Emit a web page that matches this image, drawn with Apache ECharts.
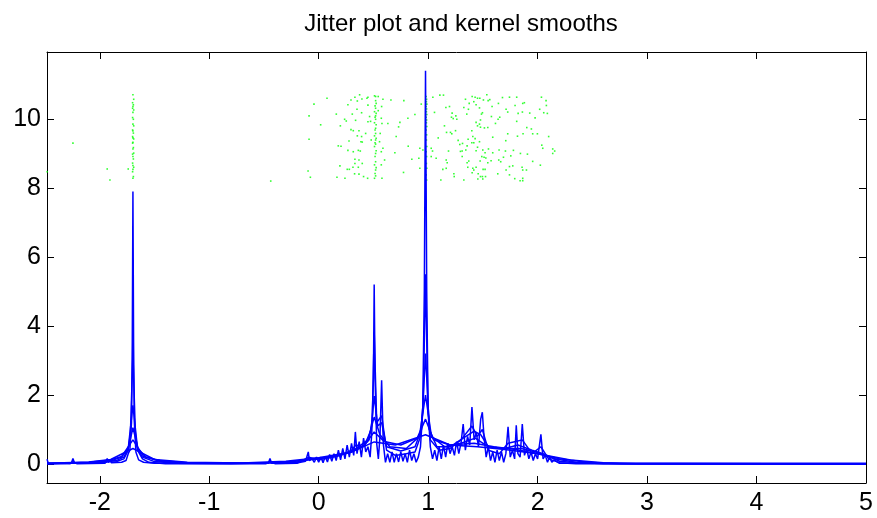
<!DOCTYPE html>
<html>
<head>
<meta charset="utf-8">
<title>Jitter plot and kernel smooths</title>
<script src="https://cdn.jsdelivr.net/npm/echarts@6/dist/echarts.min.js"></script>
<style>
html, body { margin: 0; padding: 0; background: #fff; }
#main { width: 877px; height: 518px; }
</style>
</head>
<body>
<div id="main"></div>
<script>
"use strict";
var xRange = [-2.482, 5];
var yRange = [-0.55, 11.94];

// kernel smooths, narrowest bandwidth first
var smooth1 = [[-2.482,0.14],[-2.47,0.02],[-2.26,0.02],[-2.245,0.16],[-2.23,0.02],[-1.95,0.03],[-1.932,0.16],[-1.92,0.04],[-1.907,0.12],[-1.895,0.04],[-1.8,0.05],[-1.76,0.1],[-1.74,0.3],[-1.725,0.4],[-1.71,1.2],[-1.703,3.5],[-1.697,7.9],[-1.691,3.5],[-1.684,1.2],[-1.67,0.35],[-1.645,0.12],[-1.6,0.05],[-1.5,0.02],[-0.46,0.02],[-0.445,0.16],[-0.43,0.02],[-0.2,0.03],[-0.12,0.08],[-0.095,0.35],[-0.085,0.1],[-0.06,0.15],[-0.04,0.05],[-0.02,0.2],[0.0,0.05],[0.02,0.2],[0.04,0.04],[0.06,0.22],[0.08,0.06],[0.1,0.28],[0.12,0.08],[0.14,0.3],[0.16,0.1],[0.18,0.4],[0.2,0.12],[0.22,0.45],[0.24,0.15],[0.26,0.55],[0.28,0.2],[0.3,0.6],[0.32,0.25],[0.335,0.93],[0.35,0.3],[0.37,0.65],[0.39,0.2],[0.41,0.75],[0.43,0.35],[0.45,0.5],[0.47,0.2],[0.485,0.9],[0.5,2.5],[0.507,5.2],[0.515,2.5],[0.53,0.6],[0.545,0.15],[0.56,0.8],[0.575,2.43],[0.59,0.6],[0.61,0.05],[0.63,0.3],[0.65,0.05],[0.67,0.35],[0.69,0.05],[0.71,0.3],[0.73,0.06],[0.75,0.35],[0.77,0.08],[0.79,0.3],[0.81,0.05],[0.83,0.4],[0.85,0.1],[0.87,0.3],[0.89,0.05],[0.91,0.2],[0.93,0.5],[0.95,1.5],[0.965,5],[0.976,11.4],[0.987,5],[1.0,1.5],[1.02,0.5],[1.04,0.15],[1.06,0.4],[1.08,0.1],[1.1,0.5],[1.12,0.15],[1.14,0.55],[1.16,0.2],[1.18,0.6],[1.2,0.3],[1.22,0.5],[1.24,0.25],[1.26,0.65],[1.28,0.3],[1.3,0.6],[1.32,1.16],[1.34,0.4],[1.36,0.8],[1.38,0.55],[1.4,1.65],[1.42,0.7],[1.44,0.9],[1.46,0.5],[1.48,1.3],[1.495,1.5],[1.51,0.8],[1.53,0.2],[1.55,0.5],[1.57,0.1],[1.59,0.35],[1.61,0.05],[1.63,0.4],[1.65,0.1],[1.67,0.35],[1.69,0.05],[1.71,0.3],[1.73,1.08],[1.75,0.2],[1.77,0.4],[1.79,0.15],[1.805,1.12],[1.82,0.3],[1.84,0.2],[1.86,1.16],[1.88,0.25],[1.9,0.45],[1.92,0.15],[1.94,0.35],[1.96,0.1],[1.98,0.3],[2.0,0.15],[2.03,0.86],[2.05,0.15],[2.07,0.25],[2.09,0.05],[2.11,0.2],[2.13,0.05],[2.15,0.12],[2.2,0.02],[5,0.02]];
var smooth2 = [[-2.482,0.02],[-2.27,0.01],[-2.245,0.07],[-2.21,0.01],[-1.96,0.02],[-1.92,0.1],[-1.84,0.08],[-1.78,0.15],[-1.74,0.4],[-1.72,0.9],[-1.697,3.2],[-1.675,0.9],[-1.655,0.4],[-1.61,0.15],[-1.55,0.05],[-1.4,0.01],[-0.48,0.01],[-0.44,0.07],[-0.4,0.01],[-0.2,0.02],[-0.09,0.2],[0.0,0.12],[0.1,0.18],[0.2,0.25],[0.3,0.4],[0.34,0.55],[0.4,0.5],[0.46,0.7],[0.49,1.3],[0.507,3.83],[0.53,1.2],[0.575,1.4],[0.62,0.4],[0.7,0.25],[0.8,0.3],[0.88,0.35],[0.93,0.8],[0.955,1.8],[0.976,5.5],[0.997,1.8],[1.02,0.7],[1.1,0.4],[1.2,0.45],[1.3,0.7],[1.4,1.1],[1.45,0.8],[1.495,1.0],[1.55,0.4],[1.65,0.3],[1.73,0.6],[1.8,0.65],[1.86,0.7],[1.95,0.3],[2.03,0.5],[2.1,0.15],[2.2,0.04],[2.35,0.01],[5,0.0]];
var smooth3 = [[-2.482,0.01],[-2.2,0.03],[-1.95,0.05],[-1.85,0.1],[-1.78,0.2],[-1.74,0.45],[-1.697,1.7],[-1.655,0.45],[-1.61,0.2],[-1.5,0.07],[-1.3,0.02],[-0.8,0.01],[-0.45,0.04],[-0.2,0.05],[-0.08,0.15],[0.1,0.2],[0.3,0.35],[0.42,0.55],[0.48,1.0],[0.507,1.97],[0.54,1.1],[0.575,1.2],[0.62,0.5],[0.75,0.38],[0.88,0.5],[0.94,1.0],[0.976,3.2],[1.01,1.0],[1.08,0.5],[1.2,0.5],[1.32,0.75],[1.42,0.95],[1.48,0.85],[1.55,0.5],[1.7,0.45],[1.82,0.55],[1.95,0.4],[2.05,0.3],[2.2,0.08],[2.4,0.02],[5,0.0]];
var smooth4 = [[-2.482,0.01],[-2.1,0.04],[-1.9,0.09],[-1.8,0.2],[-1.74,0.45],[-1.697,1.05],[-1.65,0.45],[-1.58,0.2],[-1.45,0.08],[-1.2,0.03],[-0.6,0.02],[-0.3,0.05],[-0.1,0.12],[0.1,0.2],[0.3,0.35],[0.45,0.7],[0.507,1.36],[0.56,0.85],[0.65,0.5],[0.8,0.45],[0.92,0.8],[0.976,2.0],[1.03,0.8],[1.15,0.5],[1.3,0.6],[1.43,0.75],[1.55,0.5],[1.7,0.45],[1.85,0.45],[2.0,0.33],[2.15,0.15],[2.35,0.05],[2.6,0.01],[5,0.0]];
var smooth5 = [[-2.482,0.01],[-2.1,0.05],[-1.9,0.12],[-1.8,0.22],[-1.697,0.7],[-1.6,0.22],[-1.45,0.1],[-1.2,0.04],[-0.6,0.02],[-0.3,0.06],[0.0,0.15],[0.25,0.3],[0.42,0.55],[0.507,0.93],[0.6,0.65],[0.75,0.55],[0.9,0.75],[0.976,1.3],[1.05,0.7],[1.2,0.55],[1.42,0.6],[1.6,0.5],[1.8,0.42],[2.0,0.3],[2.2,0.15],[2.45,0.05],[2.75,0.01],[5,0.0]];
var smooth6 = [[-2.482,0.02],[-2.1,0.06],[-1.9,0.13],[-1.697,0.45],[-1.5,0.13],[-1.2,0.05],[-0.7,0.03],[-0.3,0.08],[0.0,0.18],[0.3,0.35],[0.507,0.64],[0.7,0.55],[0.976,0.85],[1.2,0.55],[1.45,0.5],[1.7,0.42],[2.0,0.3],[2.3,0.12],[2.6,0.04],[2.9,0.01],[5,0.0]];

// jittered observations
var jitterLeft = [[-2.48,8.47],[-2.245,9.30],[-1.932,8.55],[-1.907,8.23],[-1.74,8.55],[-0.438,8.20],
  [-1.697,10.70],[-1.69,10.57],[-1.70,10.47],[-1.693,10.41],[-1.697,10.36],[-1.70,10.31],[-1.69,10.26],[-1.697,10.19],[-1.70,10.04],[-1.693,9.99],[-1.697,9.85],[-1.69,9.80],[-1.70,9.68],[-1.697,9.65],[-1.693,9.59],[-1.70,9.49],[-1.697,9.45],[-1.69,9.42],[-1.697,9.32],[-1.70,9.30],[-1.693,9.17],[-1.697,9.13],[-1.69,9.01],[-1.70,8.98],[-1.697,8.91],[-1.693,8.84],[-1.70,8.72],[-1.697,8.65],[-1.69,8.60],[-1.697,8.54],[-1.70,8.47],[-1.693,8.33],[-1.697,8.28]];
var jitterMid = [[0.076,10.60],[-0.043,10.43],[-0.088,10.09],[0.018,9.83],[-0.088,9.41],[-0.097,8.49],[-0.076,8.31],[0.161,10.14],[0.198,9.80],[0.179,9.22],[0.204,9.21],[0.167,8.31],[0.240,8.28],[0.194,8.64],[0.267,10.41],[0.295,10.55],[0.331,10.63],[0.353,10.52],[0.374,10.70],[0.395,10.58],[0.441,10.60],[0.450,10.63],[0.307,10.14],[0.350,10.28],[0.392,10.18],[0.237,9.99],[0.252,9.94],[0.337,9.96],[0.295,9.69],[0.316,9.66],[0.368,9.66],[0.429,9.58],[0.392,9.49],[0.353,9.51],[0.277,9.36],[0.386,9.34],[0.398,9.33],[0.267,9.09],[0.316,9.05],[0.362,9.09],[0.380,9.07],[0.331,8.83],[0.368,8.81],[0.398,8.71],[0.331,8.71],[0.261,8.54],[0.280,8.54],[0.313,8.60],[0.362,8.60],[0.328,8.41],[0.368,8.40],[0.410,8.33],[0.447,8.28],[0.450,10.40],[0.465,10.07],[0.450,9.92],[0.480,9.39],[0.556,9.34],[0.544,10.24],[0.575,10.36],[0.587,10.57],[0.660,10.55],[0.544,10.65],[0.520,10.65],[0.474,9.93],[0.572,10.02],[0.632,9.87],[0.578,9.87],[0.562,9.58],[0.587,9.15],[0.572,9.05],[0.602,8.81],[0.572,8.67],[0.578,8.28],[0.696,9.02],[0.708,9.49],[0.730,9.77],[0.742,9.90],[0.778,10.53],[0.815,10.02],[0.818,9.21],[0.879,10.13],[0.851,8.83],[0.915,8.86],[0.775,8.45],[0.937,10.43],[0.924,9.15],[0.924,8.57],[0.952,9.10],
  [0.51,10.67],[0.52,10.53],[0.525,10.45],[0.515,10.38],[0.52,10.31],[0.51,10.21],[0.525,10.16],[0.52,10.09],[0.515,10.05],[0.52,9.99],[0.51,9.89],[0.525,9.83],[0.52,9.73],[0.515,9.68],[0.52,9.58],[0.51,9.51],[0.525,9.44],[0.52,9.39],[0.515,9.31],[0.52,9.27],[0.51,9.20],[0.525,9.08],[0.52,9.00],[0.515,8.91],[0.52,8.76],[0.51,8.67],[0.525,8.59],[0.52,8.52],[0.515,8.42],[0.52,8.35],[0.51,8.28],
  [0.982,10.65],[0.986,10.57],[0.984,10.50],[0.988,10.43],[0.982,10.36],[0.986,10.29],[0.984,10.21],[0.988,10.13],[0.982,10.05],[0.986,9.97],[0.984,9.89],[0.988,9.78],[0.982,9.68],[0.986,9.54],[0.984,9.39],[0.988,9.20],[0.982,9.05],[0.986,8.91],[0.984,8.71],[0.988,8.57],[0.982,8.38],[0.986,8.23]];
var jitterRight = [[1.043,10.63],[1.107,10.69],[1.140,10.69],[1.058,10.19],[1.092,9.45],[1.028,9.15],[1.040,9.07],[1.073,8.86],[1.028,8.91],[1.149,9.80],[1.162,10.33],[1.195,10.36],[1.186,9.07],[1.165,8.81],[1.174,8.73],[1.165,8.57],[1.116,8.23],[1.134,8.54],[1.219,10.17],[1.213,10.05],[1.229,10.01],[1.253,10.09],[1.262,9.99],[1.216,9.57],[1.204,9.61],[1.168,9.61],[1.250,9.66],[1.274,9.38],[1.289,9.26],[1.295,9.06],[1.311,9.07],[1.314,9.29],[1.326,10.33],[1.341,10.57],[1.353,10.14],[1.368,10.28],[1.375,10.45],[1.402,10.65],[1.429,10.63],[1.417,10.50],[1.438,10.41],[1.451,10.60],[1.472,10.60],[1.496,10.18],[1.469,10.32],[1.487,10.14],[1.505,10.55],[1.536,10.70],[1.548,10.53],[1.563,10.56],[1.584,10.36],[1.578,10.07],[1.469,9.85],[1.478,9.97],[1.478,9.76],[1.451,9.80],[1.438,9.90],[1.399,9.66],[1.408,9.49],[1.429,9.43],[1.469,9.34],[1.514,9.74],[1.545,9.75],[1.499,9.10],[1.520,9.02],[1.551,9.13],[1.527,8.87],[1.511,8.89],[1.475,8.78],[1.490,8.91],[1.438,9.08],[1.451,9.18],[1.399,9.31],[1.365,9.41],[1.417,9.31],[1.344,9.10],[1.356,9.22],[1.311,8.91],[1.356,8.73],[1.371,8.78],[1.362,8.60],[1.408,8.57],[1.417,8.52],[1.402,8.44],[1.438,8.60],[1.457,8.41],[1.478,8.33],[1.496,8.33],[1.502,8.54],[1.520,8.54],[1.545,8.73],[1.575,8.79],[1.590,9.47],[1.615,9.87],[1.639,9.99],[1.654,10.05],[1.642,10.45],[1.679,10.62],[1.712,10.28],[1.727,10.20],[1.743,10.63],[1.809,10.63],[1.794,10.39],[1.822,10.16],[1.809,9.93],[1.864,10.45],[1.879,10.47],[1.861,10.20],[1.928,10.17],[1.901,9.75],[1.977,10.03],[1.943,9.71],[1.998,9.57],[2.019,10.28],[2.056,10.18],[2.077,10.53],[2.089,10.16],[2.035,10.63],[2.080,10.39],[2.101,9.49],[1.955,9.57],[1.867,9.57],[1.816,9.50],[1.727,9.57],[1.709,9.37],[1.648,9.10],[1.590,9.02],[1.706,9.07],[1.779,9.09],[1.755,8.93],[1.843,9.00],[1.907,8.98],[1.955,8.77],[2.038,9.24],[2.047,9.15],[2.138,9.13],[2.156,9.07],[2.138,9.00],[2.025,8.66],[1.858,8.60],[1.864,8.52],[1.773,8.64],[1.743,8.62],[1.712,8.52],[1.688,8.89],[1.636,8.41],[1.743,8.38],[1.791,8.27],[1.840,8.21],[1.864,8.28],[1.864,8.21],[1.898,8.52],[1.454,8.26],[1.499,8.26],[1.524,8.33],[1.326,8.23],[1.235,8.41],[1.238,8.33],[1.645,8.81],[1.663,8.76]];

var smooths = [smooth1, smooth2, smooth3, smooth4, smooth5, smooth6];
var jitter = jitterLeft.concat(jitterMid, jitterRight);

var fontName = '"Liberation Sans", Arial, sans-serif';

function makeAxis(pos, range, showLabel){
    var horiz = pos === 'bottom' || pos === 'top';
    return {
        type: 'value',
        position: pos,
        min: range[0],
        max: range[1],
        splitNumber: horiz ? 7 : 6,
        axisLine: { show: true, onZero: false, lineStyle: { color: '#000', width: 1 } },
        axisTick: { show: true, inside: true, length: 7, lineStyle: { color: '#000' } },
        axisLabel: {
            show: showLabel,
            showMinLabel: false,
            showMaxLabel: pos === 'bottom',
            color: '#000',
            fontSize: 25,
            fontFamily: fontName,
            margin: horiz ? 8 : 6
        },
        splitLine: { show: false }
    };
}

var series = [{
    type: 'scatter',
    data: jitter,
    symbol: 'rect',
    symbolSize: 1.6,
    itemStyle: { color: '#00ff00' },
    silent: true
}];
smooths.forEach(function(s){
    series.push({
        type: 'line',
        data: s,
        showSymbol: false,
        symbol: 'none',
        lineStyle: { color: '#0000ff', width: 1.5 },
        silent: true
    });
});

var myChart = echarts.init(document.getElementById('main'), null, { renderer: 'canvas' });
myChart.setOption({
    animation: false,
    backgroundColor: '#fff',
    title: {
        text: 'Jitter plot and kernel smooths',
        left: 456,
        top: 7,
        textAlign: 'center',
        textStyle: { fontSize: 24, fontWeight: 'normal', color: '#000', fontFamily: fontName }
    },
    grid: { left: 47, right: 11, top: 52, bottom: 35, containLabel: false },
    xAxis: [makeAxis('bottom', xRange, true), makeAxis('top', xRange, false)],
    yAxis: [makeAxis('left', yRange, true), makeAxis('right', yRange, false)],
    series: series
});
</script>
</body>
</html>
